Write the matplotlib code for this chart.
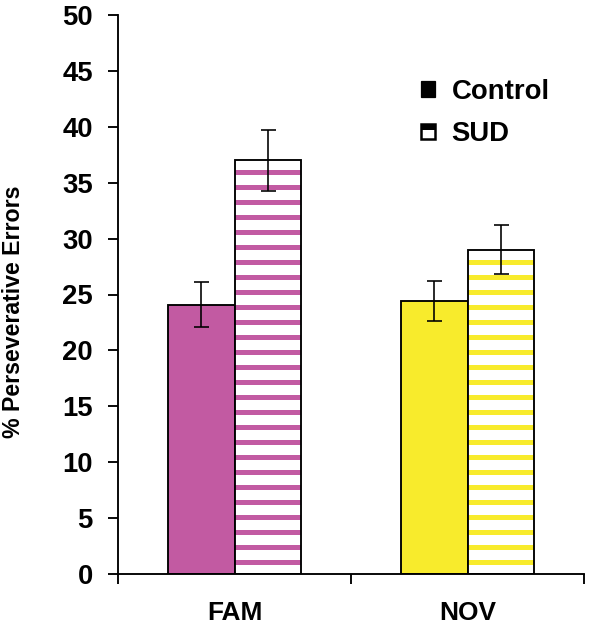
import numpy as np
import matplotlib.pyplot as plt
from matplotlib.patches import Patch

plt.rcParams['font.family'] = ['Liberation Sans', 'DejaVu Sans']
plt.rcParams['font.weight'] = 'bold'
plt.rcParams['hatch.linewidth'] = 4.0

groups = ['FAM', 'NOV']
control = [24.1, 24.4]
control_err = [2.0, 1.8]
sud = [37.0, 29.0]
sud_err = [2.7, 2.2]
colors = ['#C25AA2', '#F8EB2C']

dpi = 90
fig = plt.figure(figsize=(589 / dpi, 629 / dpi), dpi=dpi)
ax = fig.add_axes([118 / 589, 1 - 574 / 629, 466 / 589, (574 - 15) / 629])

x = np.arange(len(groups)) + 0.5
w = 0.285

ax.bar(x - w / 2, control, w, color=colors, edgecolor='black', linewidth=1.5, zorder=2)
# striped SUD bars: hatch first, then black outline on top
ax.bar(x + w / 2, sud, w, color='white', edgecolor=colors, hatch='-', linewidth=0, zorder=2)
ax.bar(x + w / 2, sud, w, fill=False, edgecolor='black', linewidth=1.5, zorder=3)

ax.errorbar(x - w / 2, control, yerr=control_err, fmt='none', ecolor='black',
            elinewidth=1.3, capsize=6, capthick=1.3, zorder=4)
ax.errorbar(x + w / 2, sud, yerr=sud_err, fmt='none', ecolor='black',
            elinewidth=1.3, capsize=6, capthick=1.3, zorder=4)

ax.set_xlim(0, 2)
ax.set_ylim(0, 50)
ax.set_yticks(np.arange(0, 51, 5))
ax.set_xticks([0, 1, 2])
ax.set_xticklabels([])
ax.set_xticks(x, minor=True)
ax.set_xticklabels(groups, minor=True, fontsize=21, fontweight='bold')
ax.tick_params(axis='x', which='minor', length=0, pad=22)
ax.tick_params(axis='x', which='major', direction='out', length=8, width=1.5)
ax.tick_params(axis='y', direction='out', length=8, width=1.5, labelsize=22, pad=12)
for lab in ax.get_yticklabels():
    lab.set_fontweight('bold')

for s in ['top', 'right']:
    ax.spines[s].set_visible(False)
for s in ['left', 'bottom']:
    ax.spines[s].set_linewidth(1.5)

ax.set_ylabel('% Perseverative Errors', fontsize=18.5, fontweight='bold')
ax.yaxis.set_label_coords(-0.2, 0.469)

handles = [Patch(facecolor='black', edgecolor='black'),
           Patch(facecolor='white', edgecolor='black', hatch='-', linewidth=2)]
ax.legend(handles, ['Control', 'SUD'], loc='upper left', bbox_to_anchor=(0.598, 0.93),
          frameon=False, fontsize=22, handlelength=0.5, handleheight=0.5,
          handletextpad=0.6, labelspacing=0.6)

fig.savefig('out.png', dpi=dpi)
